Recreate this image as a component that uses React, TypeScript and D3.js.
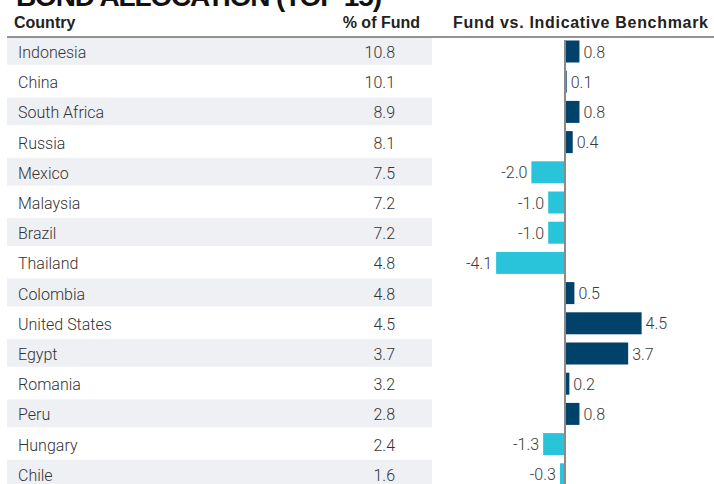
import { useEffect, useRef } from "react";
import * as d3 from "d3";

const width = 714;
const height = 484;

const countries = [
  "Indonesia", "China", "South Africa", "Russia", "Mexico", "Malaysia", "Brazil",
  "Thailand", "Colombia", "United States", "Egypt", "Romania", "Peru", "Hungary", "Chile",
];
const fundPct = [10.8, 10.1, 8.9, 8.1, 7.5, 7.2, 7.2, 4.8, 4.8, 4.5, 3.7, 3.2, 2.8, 2.4, 1.6];
const vsBenchmark = [0.8, 0.1, 0.8, 0.4, -2.0, -1.0, -1.0, -4.1, 0.5, 4.5, 3.7, 0.2, 0.8, -1.3, -0.3];

const title = "BOND ALLOCATION (TOP 15)";
const headers = ["Country", "% of Fund", "Fund vs. Indicative Benchmark"];

const darkBlue = "#00426a";
const lightBlue = "#29c3da";
const shade = "#eff0f4";
const font = "'Liberation Sans', Arial, Helvetica, sans-serif";
const lightFont = "Roboto, 'Liberation Sans', Arial, sans-serif";

const App = () => {
  const svgRef = useRef<SVGSVGElement | null>(null);

  useEffect(() => {
    document.body.style.margin = "0";
    if (!svgRef.current) return;
    const svg = d3.select(svgRef.current);
    svg.selectAll("*").remove();

    const rows = countries.map((c, i) => ({ country: c, pct: fundPct[i], diff: vsBenchmark[i], i }));

    // row positions
    const yScale = d3.scaleBand<string>()
      .domain(countries)
      .range([37, 37 + countries.length * 30.2]);
    // bar x scale, zero at 565
    const xScale = d3.scaleLinear().domain([-5, 5]).range([565 - 84, 565 + 84]);

    // title (cut off at top)
    svg.append("text")
      .attr("x", 16).attr("y", 5.5)
      .attr("font-family", font).attr("font-weight", "bold").attr("font-size", 28)
      .attr("textLength", 366)
      .attr("fill", "#111")
      .text(title);

    // headers
    const hdr = svg.append("g").attr("font-family", font).attr("font-weight", "bold")
      .attr("font-size", 16).attr("fill", "#222");
    hdr.append("text").attr("x", 14).attr("y", 28).text(headers[0]);
    hdr.append("text").attr("x", 420).attr("y", 28).attr("text-anchor", "end").text(headers[1]);
    hdr.append("text").attr("x", 453).attr("y", 28).attr("textLength", 255).text(headers[2]);

    // row shading
    svg.append("g").selectAll("rect")
      .data(rows.filter(d => d.i % 2 === 0))
      .enter().append("rect")
      .attr("x", 7)
      .attr("y", d => yScale(d.country) as number)
      .attr("width", 425)
      .attr("height", 27.8)
      .attr("fill", shade);

    // header rule
    svg.append("line")
      .attr("x1", 7).attr("x2", width)
      .attr("y1", 37).attr("y2", 37)
      .attr("stroke", "#6f6f6f").attr("stroke-width", 1.5);

    // country + value text
    const txt = svg.append("g").attr("font-family", lightFont).attr("font-weight", 300)
      .attr("font-size", 16).attr("fill", "#333");
    txt.selectAll(".country")
      .data(rows).enter().append("text")
      .attr("class", "country")
      .attr("x", 18)
      .attr("y", d => (yScale(d.country) as number) + 21)
      .text(d => d.country);
    txt.selectAll(".pct")
      .data(rows).enter().append("text")
      .attr("class", "pct")
      .attr("x", 395)
      .attr("text-anchor", "end")
      .attr("y", d => (yScale(d.country) as number) + 21)
      .text(d => d.pct.toFixed(1));

    // bars
    svg.append("g").selectAll("rect")
      .data(rows).enter().append("rect")
      .attr("x", d => Math.min(xScale(0), xScale(d.diff)))
      .attr("y", d => (yScale(d.country) as number) + 3.5)
      .attr("width", d => Math.abs(xScale(d.diff) - xScale(0)) + (d.diff > 0.15 ? 1 : 0))
      .attr("height", 22)
      .attr("fill", d => (d.diff >= 0 ? darkBlue : lightBlue));

    // zero axis
    svg.append("line")
      .attr("x1", xScale(0)).attr("x2", xScale(0))
      .attr("y1", 40).attr("y2", height)
      .attr("stroke", "#8a8a8a").attr("stroke-width", 2);

    // bar labels
    svg.append("g").attr("font-family", lightFont).attr("font-weight", 300)
      .attr("font-size", 16).attr("fill", "#3a3a3a")
      .selectAll("text")
      .data(rows).enter().append("text")
      .attr("x", d => (d.diff >= 0 ? xScale(Math.max(d.diff, 0)) + 4 + (d.diff > 0.15 ? 1 : 0) : xScale(d.diff) - 4))
      .attr("text-anchor", d => (d.diff >= 0 ? "start" : "end"))
      .attr("y", d => (yScale(d.country) as number) + 20.5)
      .text(d => d.diff.toFixed(1));
  }, []);

  return (
    <svg
      ref={svgRef}
      width={width}
      height={height}
      viewBox={`0 0 ${width} ${height}`}
      style={{ position: "absolute", left: 0, top: 0, background: "#fff" }}
    />
  );
};

export default App;
